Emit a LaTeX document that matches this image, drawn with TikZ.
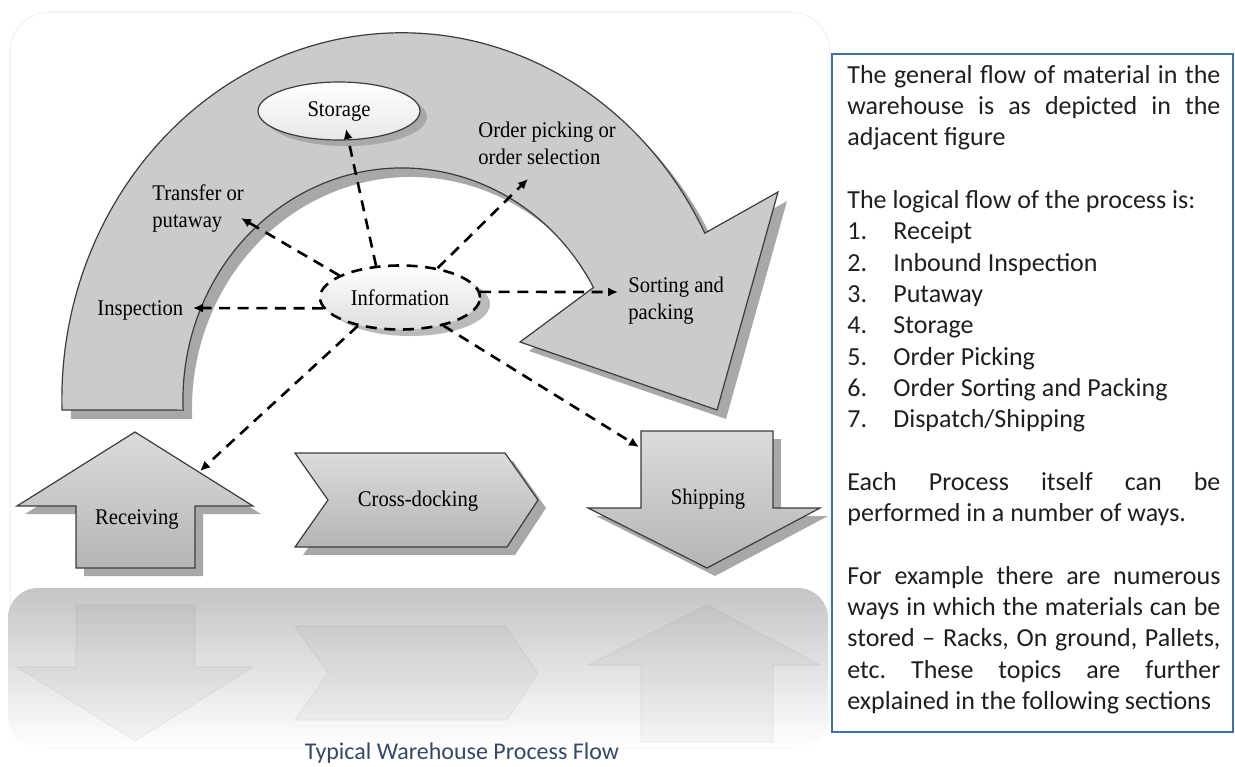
\documentclass[tikz,border=0pt]{standalone}
\usepackage{fontspec}
\setmainfont{Carlito}
\newfontfamily\diaf{Liberation Serif}[FakeStretch=0.92]
\usetikzlibrary{arrows.meta,shapes.geometric}
\definecolor{arcgray}{RGB}{203,203,203}
\definecolor{shadowgray}{RGB}{168,168,168}
\definecolor{edgegray}{RGB}{60,60,60}
\definecolor{boxblue}{RGB}{62,112,176}
\definecolor{capblue}{RGB}{52,72,104}
\newcommand\warcpath{(62,410) arc[start angle=178.4, end angle=333, x radius=340, y radius=367] -- (778,192) -- (717,410) -- (520,342) -- (593.5,287.5) arc[start angle=331, end angle=177.5, x radius=219, y radius=232] -- cycle}
\newcommand\recvpath{(135,432) -- (253,506) -- (195,506) -- (195,568) -- (76,568) -- (76,506) -- (17,506) -- cycle}
\newcommand\crosspath{(295,453) -- (505,453) -- (538,500) -- (507,547) -- (295,547) -- (328,500) -- cycle}
\newcommand\shippath{(641,431) -- (773,431) -- (773,508) -- (820,508) -- (707,568) -- (588,508) -- (641,508) -- cycle}
\begin{document}
\begin{tikzpicture}[x=0.5pt,y=-0.5pt,
  shapeline/.style={draw=edgegray, line width=0.6pt},
  shadowc/.style={fill=shadowgray},
  flatshape/.style={shapeline, top color=black!14, bottom color=black!29},
  dl/.style={line width=1.3pt, dash pattern=on 5.5pt off 3.8pt, -{Latex[length=5pt,width=4.6pt]}},
  lbl/.style={font=\diaf\fontsize{11.2}{13.5}\selectfont, text=black, inner sep=0pt, align=left},
  reflect/.style={fill=black, fill opacity=0.03, draw=black, draw opacity=0.04, line width=0.6pt}
]
\useasboundingbox (0,0) rectangle (1235,766);
\fill[white] (0,0) rectangle (1235,766);
% faint frame
\draw[black!4, line width=0.8pt, rounded corners=20pt] (10,12) rectangle (830,748);
% reflection area
\shade[top color=black!23, bottom color=white, rounded corners=15pt] (8,588) rectangle (828,748);
\begin{scope}
  \clip (8,588) rectangle (828,748);
  \path[reflect] (135,741) -- (253,667) -- (195,667) -- (195,605) -- (76,605) -- (76,667) -- (17,667) -- cycle;
  \path[reflect] (295,626) -- (505,626) -- (538,673) -- (507,720) -- (295,720) -- (328,673) -- cycle;
  \path[reflect] (641,742) -- (773,742) -- (773,665) -- (820,665) -- (707,605) -- (588,665) -- (641,665) -- cycle;
\end{scope}

% big curved arrow
\fill[shadowc, shift={(9,9)}] \warcpath;
\path[shapeline, fill=arcgray] \warcpath;

% bottom shapes
\fill[shadowc, shift={(8,8)}] \recvpath;
\path[flatshape] \recvpath;
\fill[shadowc, shift={(8,8)}] \crosspath;
\path[flatshape] \crosspath;
\fill[shadowc, shift={(8,8)}] \shippath;
\path[flatshape] \shippath;

% storage ellipse
\fill[shadowc] (346,117) ellipse [x radius=81, y radius=29];
\node[ellipse, shapeline, top color=white, bottom color=black!9, minimum width=81pt, minimum height=29pt, inner sep=0pt, lbl] (stor) at (339,111) {Storage};

% information ellipse
\fill[black!27] (410,304) ellipse [x radius=80, y radius=32];
\node[ellipse, draw=black, line width=1.3pt, dash pattern=on 5.5pt off 3.8pt, top color=white, bottom color=black!13, minimum width=80pt, minimum height=32pt, inner sep=0pt, lbl] (info) at (400,297.5) {Information};

% labels
\node[lbl, anchor=north west] (trans) at (152,181) {\strut Transfer or\\putaway};
\node[lbl, anchor=base west] (insp) at (97,315) {Inspection};
\node[lbl, anchor=north west] (ordr) at (478,118) {\strut Order picking or\\order selection};
\node[lbl, anchor=north west] (sort) at (628,273) {\strut Sorting and\\packing};
\node[lbl] (recvt) at (137,519) {Receiving};
\node[lbl] (crosst) at (418,501) {Cross-docking};
\node[lbl] (shipt) at (708,499) {Shipping};

% arrow targets
\coordinate (tStor) at (346,129);
\coordinate (tTrans) at (241,218);
\coordinate (tInsp) at (193,308);
\coordinate (tOrd) at (528,179);
\coordinate (tSort) at (618,292);
\coordinate (tRecv) at (200,471);
\coordinate (tShip) at (639,447);

% dashed connectors
\draw[dl] (info.127) -- (tStor);
\draw[dl] (info.160) -- (tTrans);
\draw[dl] (info.188) -- (tInsp);
\draw[dl] (info.38) -- (tOrd);
\draw[dl] (info.4) -- (tSort);
\draw[dl] (info.214) -- (tRecv);
\draw[dl] (info.-33) -- (tShip);

% caption
\node[font=\fontsize{12}{14}\selectfont, text=capblue, inner sep=0pt] (cap) at (462,753) {Typical Warehouse Process Flow};

% text box
\draw[boxblue, line width=1.1pt] (832,54) rectangle (1233,732);
\node[anchor=north west, inner sep=0pt, text width=186.5pt, align=justify, font=\fontsize{13}{15.65}\selectfont, text=black!88] (desc) at (847,61)
{\setlength\parindent{0pt}\frenchspacing\tolerance=10000\hbadness=10000\strut The general flow of material in the\linebreak warehouse is as depicted in the\linebreak adjacent figure\par
\mbox{}\par
The logical flow of the process is:\par
\makebox[23pt][l]{1.}Receipt\par
\makebox[23pt][l]{2.}Inbound Inspection\par
\makebox[23pt][l]{3.}Putaway\par
\makebox[23pt][l]{4.}Storage\par
\makebox[23pt][l]{5.}Order Picking\par
\makebox[23pt][l]{6.}Order Sorting and Packing\par
\makebox[23pt][l]{7.}Dispatch/Shipping\par
\mbox{}\par
Each Process itself can be\linebreak performed in a number of ways.\par
\mbox{}\par
For example there are numerous\linebreak ways in which the materials can be\linebreak stored -- Racks, On ground, Pallets,\linebreak etc. These topics are further\linebreak explained in the following sections\par};
\end{tikzpicture}
\end{document}
